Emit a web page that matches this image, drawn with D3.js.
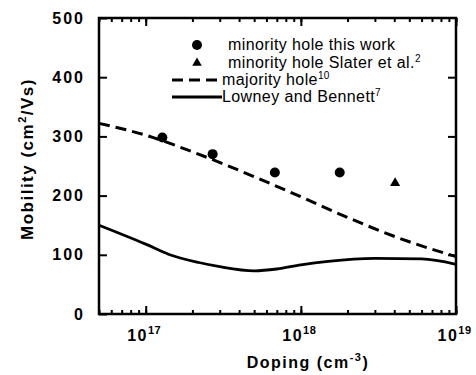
<!DOCTYPE html>
<html>
<head>
<meta charset="utf-8">
<script src="https://cdn.jsdelivr.net/npm/d3@7/dist/d3.min.js"></script>
<style>
  body { margin: 0; background: #fff; }
  svg { font-family: "Liberation Sans", Arial, sans-serif; }
</style>
</head>
<body>
<div class="container"></div>
<script>
var w = 476;
var h = 375;

// data
var dopingThisWork = [1.28e17, 2.7e17, 6.8e17, 1.78e18];
var mobilityThisWork = [298, 270, 239, 239];
var dopingSlater = [4.05e18];
var mobilitySlater = [221];
var dopingMajority = [5e16, 1e17, 2e17, 5e17, 1e18, 2e18, 5e18, 1e19];
var mobilityMajority = [322, 302, 274, 232, 198, 163, 122, 97];
var dopingLowney = [5e16, 1e17, 1.4e17, 2.2e17, 3e17, 5e17, 7e17, 1e18, 1.5e18, 3e18, 6e18, 1e19];
var mobilityLowney = [150, 118, 101, 87, 80, 73, 76, 83, 89, 94, 93, 84];
var yTicks = [0, 100, 200, 300, 400, 500];
var xMajor = [1e17, 1e18, 1e19];

var m = {left: 99, right: 20, top: 18, bottom: 61};
var iw = w - m.left - m.right;
var ih = h - m.top - m.bottom;

var canvas = d3.select(".container").append("svg")
  .attr("width", w)
  .attr("height", h);

var x = d3.scaleLog().domain([5e16, 1e19]).range([0, iw]);
var y = d3.scaleLinear().domain([0, 500]).range([ih, 0]);

var g = canvas.append("g").attr("transform", "translate(" + m.left + "," + m.top + ")");

function styleAxis(sel) {
  sel.select(".domain").remove();
  sel.selectAll(".tick line").attr("stroke", "#000").attr("stroke-width", 2);
}

// minor ticks, bottom and top
g.append("g").attr("transform", "translate(0," + ih + ")")
  .call(d3.axisBottom(x).tickValues(x.ticks()).tickSizeInner(-4).tickSizeOuter(0).tickFormat(""))
  .call(styleAxis);
g.append("g")
  .call(d3.axisTop(x).tickValues(x.ticks()).tickSizeInner(-4).tickSizeOuter(0).tickFormat(""))
  .call(styleAxis);

// major ticks with labels
var xb = g.append("g").attr("transform", "translate(0," + ih + ")")
  .call(d3.axisBottom(x).tickValues(xMajor).tickSizeInner(-8).tickSizeOuter(0).tickPadding(21).tickFormat(""))
  .call(styleAxis);
g.append("g")
  .call(d3.axisTop(x).tickValues(xMajor).tickSizeInner(-8).tickSizeOuter(0).tickFormat(""))
  .call(styleAxis);

xb.selectAll(".tick text").each(function (d) {
  var t = d3.select(this)
    .attr("font-size", 16).attr("font-weight", "bold").attr("fill", "#000")
    .attr("dy", "0.35em").attr("text-anchor", "middle").attr("letter-spacing", 1.5)
    .attr("dx", -2);
  t.append("tspan").text("10");
  t.append("tspan").attr("font-size", 11).attr("dy", -7).attr("letter-spacing", 0.5)
    .text(Math.round(Math.log10(d)));
});

// y axis left with labels, right ticks only
g.append("g")
  .call(d3.axisLeft(y).tickValues(yTicks).tickSizeInner(-8).tickSizeOuter(0).tickPadding(14))
  .call(styleAxis)
  .selectAll(".tick text")
  .attr("font-size", 16).attr("font-weight", "bold").attr("fill", "#000").attr("letter-spacing", 2);
g.append("g").attr("transform", "translate(" + iw + ",0)")
  .call(d3.axisRight(y).tickValues(yTicks.slice(1, -1)).tickSizeInner(-8).tickSizeOuter(0).tickFormat(""))
  .call(styleAxis);

// frame
g.append("rect").attr("width", iw).attr("height", ih)
  .attr("fill", "none").attr("stroke", "#000").attr("stroke-width", 2.5);

// curves
var line = d3.line().x((d) => x(d[0])).y((d) => y(d[1])).curve(d3.curveMonotoneX);

g.append("path")
  .datum(d3.zip(dopingMajority, mobilityMajority))
  .attr("d", line)
  .attr("fill", "none").attr("stroke", "#000").attr("stroke-width", 3)
  .attr("stroke-dasharray", "11,6");

g.append("path")
  .datum(d3.zip(dopingLowney, mobilityLowney))
  .attr("d", line)
  .attr("fill", "none").attr("stroke", "#000").attr("stroke-width", 2.8);

// points
g.selectAll(".dot").data(d3.zip(dopingThisWork, mobilityThisWork)).enter()
  .append("circle").attr("class", "dot")
  .attr("cx", (d) => x(d[0])).attr("cy", (d) => y(d[1])).attr("r", 5).attr("fill", "#000");

var tri = d3.symbol().type(d3.symbolTriangle).size(45);
g.selectAll(".tri").data(d3.zip(dopingSlater, mobilitySlater)).enter()
  .append("path").attr("class", "tri").attr("d", tri)
  .attr("transform", (d) => "translate(" + x(d[0]) + "," + y(d[1]) + ")").attr("fill", "#000");

// legend
var lg = canvas.append("g").attr("font-size", 16).attr("letter-spacing", 0.4).attr("fill", "#000");
lg.append("circle").attr("cx", 197).attr("cy", 45).attr("r", 5).attr("fill", "#000");
lg.append("path").attr("d", d3.symbol().type(d3.symbolTriangle).size(40)).attr("transform", "translate(197,63)");
lg.append("line").attr("x1", 172).attr("x2", 220).attr("y1", 80).attr("y2", 80)
  .attr("stroke", "#000").attr("stroke-width", 3).attr("stroke-dasharray", "11,6");
lg.append("line").attr("x1", 172).attr("x2", 222).attr("y1", 97).attr("y2", 97)
  .attr("stroke", "#000").attr("stroke-width", 2.8);

function legendText(xp, yp, main, sup) {
  var t = lg.append("text").attr("x", xp).attr("y", yp);
  t.append("tspan").text(main);
  if (sup) t.append("tspan").attr("font-size", 10).attr("dy", -6).text(sup);
}
legendText(228, 50, "minority hole this work");
legendText(228, 68, "minority hole Slater et al.", "2");
legendText(222, 85, "majority hole", "10");
legendText(222, 102, "Lowney and Bennett", "7");

// axis titles
var xt = canvas.append("text").attr("x", 308).attr("y", 368).attr("text-anchor", "middle")
  .attr("font-size", 16).attr("font-weight", "bold").attr("letter-spacing", 1.5);
xt.append("tspan").text("Doping (cm");
xt.append("tspan").attr("font-size", 11).attr("dy", -7).text("-3");
xt.append("tspan").attr("dy", 7).text(")");

var yt = canvas.append("text").attr("transform", "translate(33,159) rotate(-90)").attr("text-anchor", "middle")
  .attr("font-size", 17).attr("font-weight", "bold").attr("letter-spacing", 1.5);
yt.append("tspan").text("Mobility (cm");
yt.append("tspan").attr("font-size", 11).attr("dy", -7).text("2");
yt.append("tspan").attr("dy", 7).text("/Vs)");
</script>
</body>
</html>
